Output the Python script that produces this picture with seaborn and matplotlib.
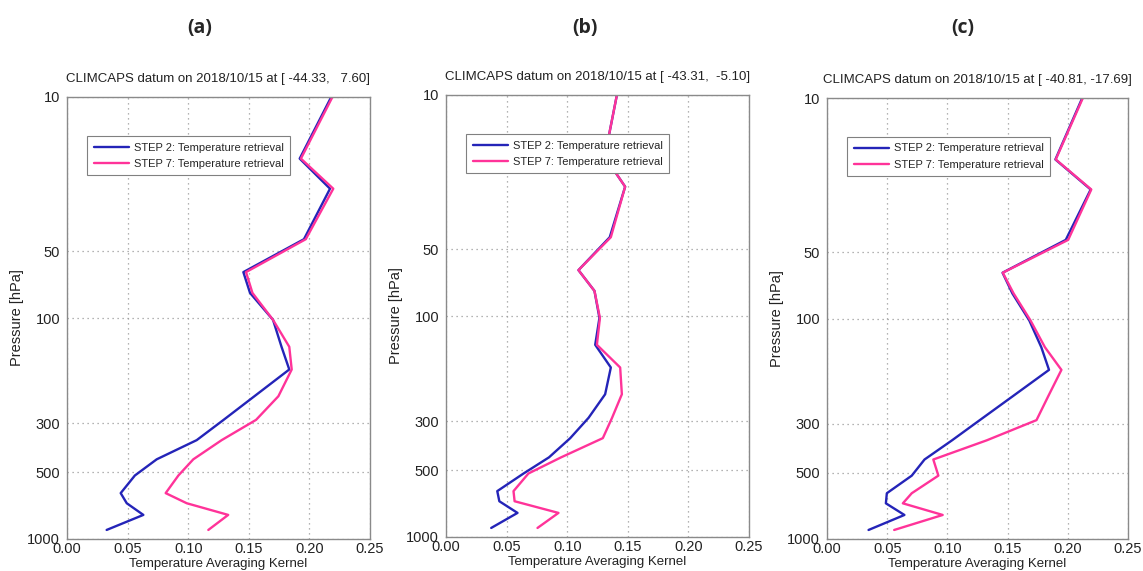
import numpy as np
import pandas as pd
import matplotlib
matplotlib.use("Agg")
import matplotlib.pyplot as plt
import seaborn as sns

# ---- data ----
pressure = [10, 19, 26, 44, 62, 77, 102, 135, 171, 226, 289, 357, 436, 516, 620, 689, 778, 910]

a_step2 = [0.218, 0.192, 0.217, 0.1955, 0.1455, 0.151, 0.170, 0.177, 0.1834, 0.1546, 0.1292, 0.107, 0.074, 0.056, 0.0443, 0.0493, 0.063, 0.0327]
a_step7 = [0.219, 0.193, 0.2197, 0.197, 0.1477, 0.153, 0.170, 0.1834, 0.1854, 0.1744, 0.156, 0.1276, 0.1042, 0.0919, 0.0814, 0.0988, 0.133, 0.1166]

b_step2 = [0.141, 0.131, 0.1478, 0.1351, 0.1093, 0.1225, 0.1266, 0.1231, 0.136, 0.1313, 0.1176, 0.1025, 0.085, 0.064, 0.0423, 0.044, 0.059, 0.0373]
b_step7 = [0.141, 0.131, 0.1478, 0.136, 0.1093, 0.1225, 0.127, 0.1245, 0.1437, 0.1451, 0.137, 0.1294, 0.095, 0.068, 0.0557, 0.0566, 0.0928, 0.0755]

c_step2 = [0.212, 0.1897, 0.219, 0.1983, 0.1458, 0.154, 0.168, 0.178, 0.1844, 0.1539, 0.1269, 0.1038, 0.081, 0.0704, 0.0497, 0.0489, 0.0643, 0.0345]
c_step7 = [0.2125, 0.190, 0.2195, 0.2003, 0.146, 0.155, 0.169, 0.181, 0.1947, 0.1836, 0.174, 0.1326, 0.0883, 0.0925, 0.0704, 0.063, 0.0961, 0.0558]

panel_labels = ["(a)", "(b)", "(c)"]
titles = ["CLIMCAPS datum on 2018/10/15 at [ -44.33,   7.60]",
          "CLIMCAPS datum on 2018/10/15 at [ -43.31,  -5.10]",
          "CLIMCAPS datum on 2018/10/15 at [ -40.81, -17.69]"]
series_names = ["STEP 2: Temperature retrieval", "STEP 7: Temperature retrieval"]
x_ticks = [0.00, 0.05, 0.10, 0.15, 0.20, 0.25]
y_ticks = [10, 50, 100, 300, 500, 1000]

panels = [(a_step2, a_step7), (b_step2, b_step7), (c_step2, c_step7)]

# ---- style ----
sns.set_theme(style="white")
plt.rcParams['font.family'] = ['Liberation Sans', 'DejaVu Sans']

colors = {series_names[0]: "#2424b8", series_names[1]: "#ff3399"}

fig = plt.figure(figsize=(11.43, 5.71), dpi=100)
W, H = 1143, 571
boxes = [(67, 97, 370, 539), (446, 95, 749, 537), (827, 98, 1128, 539)]
label_x = [200, 585, 963]

for i, ((s2, s7), (l, t, r, b)) in enumerate(zip(panels, boxes)):
    ax = fig.add_axes([l / W, (H - b) / H, (r - l) / W, (b - t) / H])
    df = pd.DataFrame({
        "ak": list(s2) + list(s7),
        "p": pressure + pressure,
        "step": [series_names[0]] * len(s2) + [series_names[1]] * len(s7),
    })
    sns.lineplot(data=df, x="ak", y="p", hue="step", sort=False, estimator=None,
                 palette=colors, linewidth=1.7, ax=ax, legend=False)
    ax.set_yscale("log")
    ax.set_ylim(1000, 10)
    ax.set_xlim(0, 0.25)
    ax.set_yticks(y_ticks)
    ax.set_yticklabels([str(v) for v in y_ticks])
    ax.yaxis.set_minor_locator(matplotlib.ticker.NullLocator())
    ax.set_xticks(x_ticks)
    ax.set_xticklabels([f"{v:.2f}" for v in x_ticks])
    ax.grid(True, linestyle=(0, (1, 3)), color="#9a9a9a", linewidth=0.9)
    for sp in ax.spines.values():
        sp.set_color("#8a8a8a")
        sp.set_linewidth(1.0)
    ax.tick_params(axis="both", labelsize=10.5, length=0, pad=5, colors="#222222")
    ax.tick_params(axis="x", pad=2.5)
    ax.set_xlabel("Temperature Averaging Kernel", fontsize=9.5, labelpad=1, color="#222222")
    ax.set_ylabel("Pressure [hPa]", fontsize=10.5, labelpad=2, color="#222222")
    ax.set_title(titles[i], fontsize=9.5, pad=11, color="#222222")
    handles = ax.lines[:2]
    leg = ax.legend(handles, series_names, loc="upper left", bbox_to_anchor=(0.066, 0.912),
                    fontsize=8, frameon=True, fancybox=False, framealpha=1,
                    edgecolor="#808080", handlelength=3.2, handletextpad=0.4,
                    borderpad=0.6, labelspacing=0.55, borderaxespad=0)
    leg.get_frame().set_linewidth(0.8)
    fig.text(label_x[i] / W, 1 - 28 / H, panel_labels[i], fontsize=14, fontweight="bold",
             ha="center", va="center", family=["Open Sans", "DejaVu Sans"])

fig.savefig("out.png", dpi=100)
